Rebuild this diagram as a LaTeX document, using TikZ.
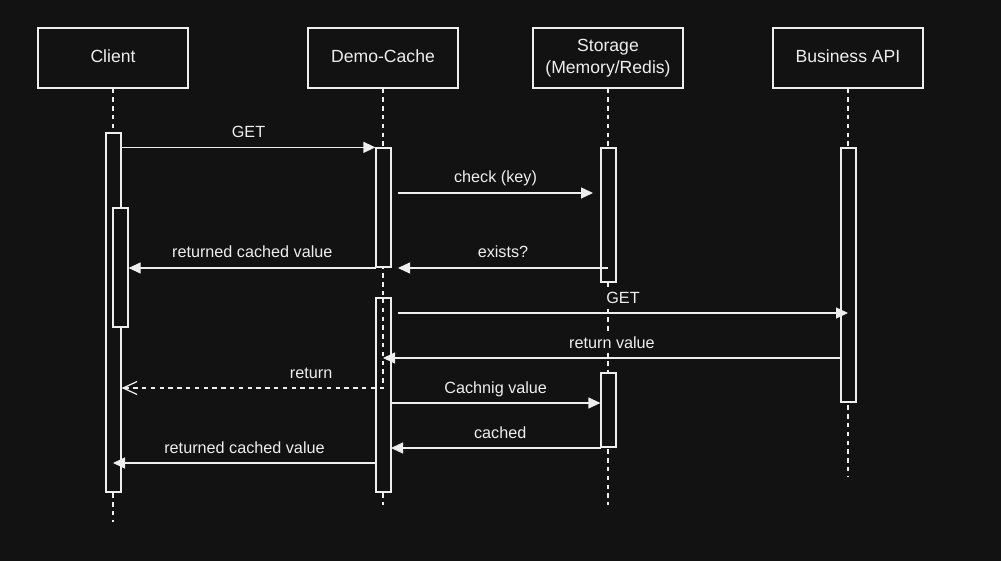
\documentclass[tikz,border=0pt]{standalone}
\usepackage{fontspec}
\setmainfont{Liberation Sans}
\usetikzlibrary{arrows.meta,calc}
\definecolor{bg}{HTML}{121212}
\definecolor{fg}{HTML}{EEEEEE}
\begin{document}
\begin{tikzpicture}[x=1pt,y=-1pt,
  line width=1.25pt,
  lbl/.style={text=fg, fill=bg, font=\fontsize{16.2}{19}\selectfont, anchor=base, inner sep=1pt, yshift=10pt},
  head/.style={draw=fg, fill=bg, text=fg, minimum width=150pt, minimum height=60pt, inner sep=0pt, font=\fontsize{17.6}{22}\selectfont, align=center},
  one/.style={text height=12.6pt, text depth=4pt},
  act/.style={draw=fg, fill=bg, minimum width=15pt, inner sep=0pt},
  life/.style={draw=fg, dash pattern=on 4.4pt off 4.4pt},
  msg/.style={draw=fg, -{Triangle[length=12pt,width=11pt]}},
  ret/.style={draw=fg, dash pattern=on 4.4pt off 4.4pt, -{Straight Barb[length=14pt,width=13pt]}},
]
\fill[bg] (0,0) rectangle (1001,561);
\useasboundingbox (0,0) rectangle (1001,561);

% lifelines
\coordinate (clientEnd) at (113,522);
\coordinate (cacheEnd) at (383,505);
\coordinate (storeEnd) at (608,505);
\coordinate (apiEnd) at (848,477);
\node[head, one] (client) at (113,58) {Client};
\node[head, one] (cache) at (383,58) {Demo-Cache};
\node[head] (store) at (608,58) {Storage\\(Memory/Redis)};
\node[head, one] (api) at (848,58) {Business API};
\draw[life] (client.south) -- (clientEnd);
\draw[life] (cache.south) -- (cacheEnd);
\draw[life] (store.south) -- (storeEnd);
\draw[life] (api.south) -- (apiEnd);

% activations
\node[act, minimum height=359pt] (c1) at (113.5,312.5) {};
\node[act, minimum height=119pt] (c2) at (120.5,267.5) {};
\node[act, minimum height=119pt] (d1) at (383.5,207.5) {};
\node[act, minimum height=194pt] (d2) at (383.5,395) {};
\node[act, minimum height=134pt] (s1) at (608.5,215) {};
\node[act, minimum height=74pt] (s2) at (608.5,410) {};
\node[act, minimum height=254pt] (b1) at (848.5,275) {};

% messages
\coordinate (m1a) at (c1.east |- d1.north);
\draw[msg] (m1a) -- (d1.north west) node[lbl, midway] {GET};

\coordinate (m2a) at (398,193);
\coordinate (m2b) at (593,193);
\draw[msg] (m2a) -- (m2b) node[lbl, midway] {check (key)};

\coordinate (m3a) at (608,268);
\coordinate (m3b) at (398,268);
\draw[msg] (m3a) -- (m3b) node[lbl, midway] {exists?};

\coordinate (m4a) at (376,268);
\coordinate (m4b) at (c2.east |- m4a);
\draw[msg] (m4a) -- (m4b) node[lbl, midway] {returned cached value};

\coordinate (m5a) at (398,313);
\coordinate (m5b) at (848,313);
\draw[msg] (m5a) -- (m5b) node[lbl, midway] {GET};

\coordinate (m6a) at (841,358);
\coordinate (m6b) at (383,358);
\draw[msg] (m6a) -- (m6b) node[lbl, midway] {return value};

\coordinate (m7a) at (383,388);
\coordinate (m7b) at (c1.east |- m7a);
\draw[ret] (383,299) -- (m7a) -- (m7b) node[lbl, pos=0.275] {return};

\coordinate (m8a) at (391,403);
\coordinate (m8b) at (s2.west |- m8a);
\draw[msg] (m8a) -- (m8b) node[lbl, midway] {Cachnig value};

\coordinate (m9a) at (601,448);
\coordinate (m9b) at (391,448);
\draw[msg] (m9a) -- (m9b) node[lbl, pos=0.48] {cached};

\coordinate (m10a) at (376,463);
\coordinate (m10b) at (113,463);
\draw[msg] (m10a) -- (m10b) node[lbl, midway] {returned cached value};
\end{tikzpicture}
\end{document}
